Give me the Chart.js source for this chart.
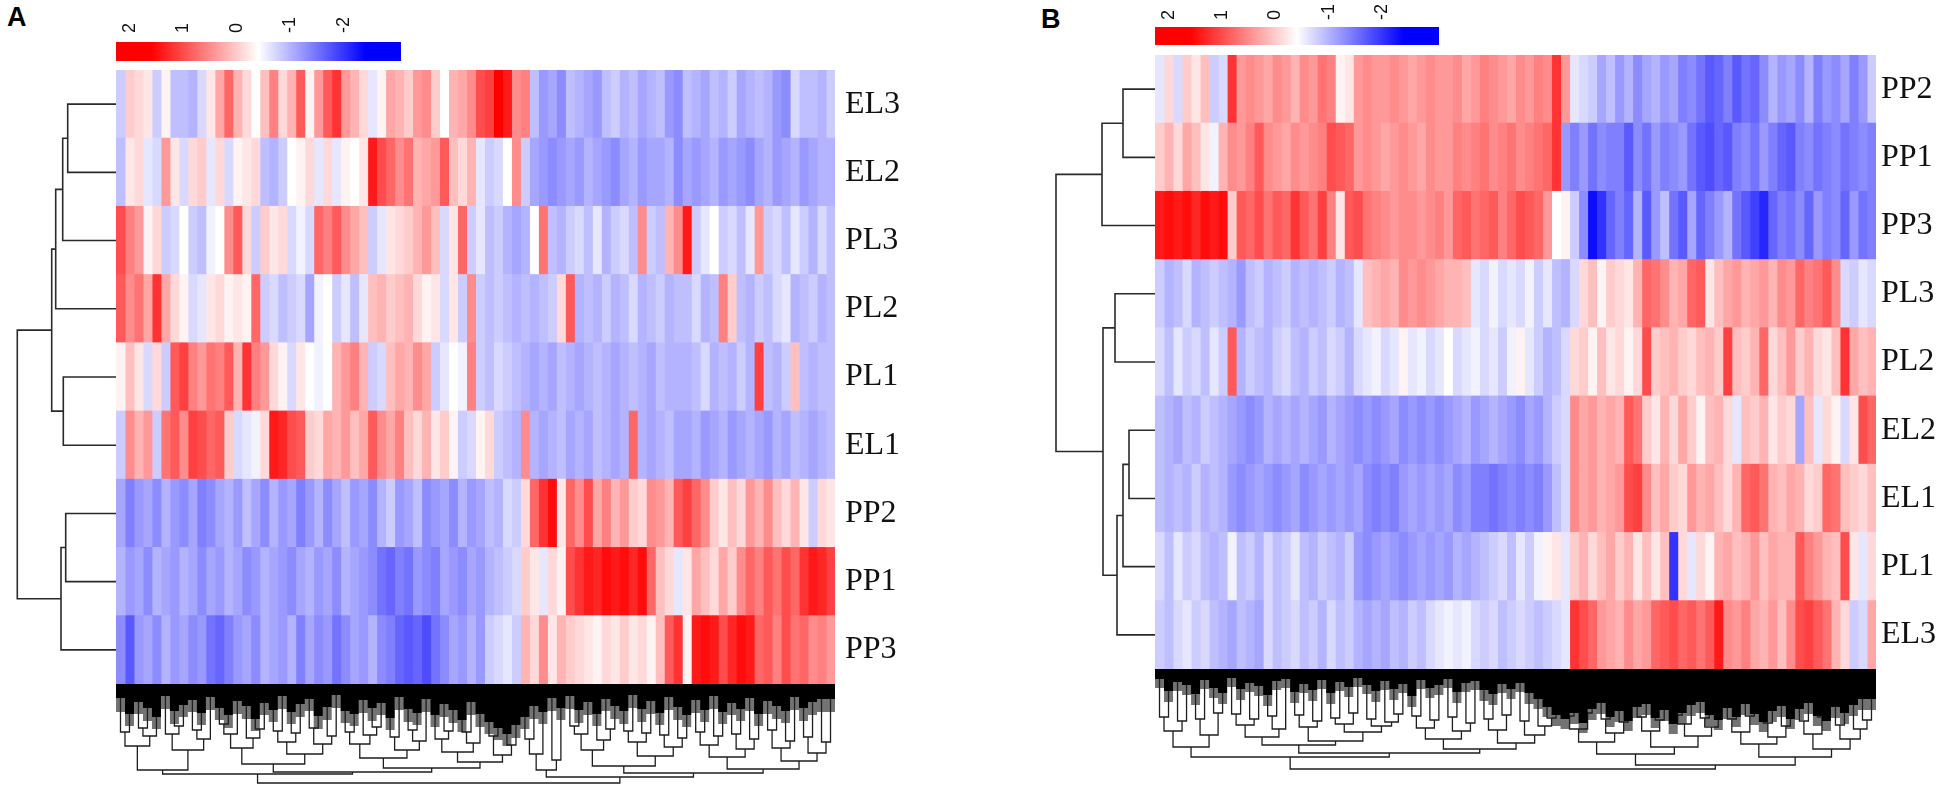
<!DOCTYPE html>
<html><head><meta charset="utf-8">
<script src="https://cdn.jsdelivr.net/npm/chart.js@4.4.1/dist/chart.umd.min.js"></script>
<style>
html,body{margin:0;padding:0;background:#fff;width:1950px;height:795px;overflow:hidden;}
.box{position:absolute;}
.box canvas{display:block;}
.letter{position:absolute;font-family:'Liberation Sans',Arial,sans-serif;font-weight:bold;font-size:27px;line-height:27px;color:#000;}
</style></head><body>
<div class="letter" style="left:7px;top:4px">A</div>
<div class="letter" style="left:1041px;top:6px">B</div>
<div class="box" id="legA" style="left:116px;top:0;width:285px;height:61px"></div>
<div class="box" id="heatA" style="left:116px;top:70px;width:824px;height:614px"></div>
<div class="box" id="rowA" style="left:16px;top:70px;width:100px;height:614px"></div>
<div class="box" id="colA" style="left:116px;top:684px;width:719px;height:104px"></div>
<div class="box" id="legB" style="left:1155px;top:0;width:284px;height:45px"></div>
<div class="box" id="heatB" style="left:1155px;top:55px;width:795px;height:614px"></div>
<div class="box" id="rowB" style="left:1055px;top:55px;width:100px;height:614px"></div>
<div class="box" id="colB" style="left:1155px;top:669px;width:721px;height:104px"></div>
<script>
// ---------- colour legend ----------
const legendTicks = [2, 1, 0, -1, -2];
const LEG_MAX = 2.66;

// ---------- panel A ----------
const rowsA = ['EL3','EL2','PL3','PL2','PL1','EL1','PP2','PP1','PP3'];
const a_EL3 = [-0.4,0.4,0.3,0.2,-0.4,0.1,-0.5,-0.5,-0.6,-0.3, 0.2,0.7,1.2,0.6,0.3,0.0,0.5,1.0,0.3,0.6, 1.3,0.1,0.8,1.3,1.6,0.8,0.6,0.3,-0.2,0.1, 0.7,0.6,0.4,0.8,0.9,0.4,0.0,0.6,0.7,0.9, 1.4,1.5,2.0,1.8,0.9,1.0,-0.5,-0.8,-0.7,-0.9, -0.5,-0.6,-0.7,-0.8,-0.5,-0.4,-0.6,-0.5,-0.7,-0.6, -0.5,-0.8,-0.9,-0.5,-0.6,-0.7,-0.5,-0.6,-0.4,-0.7, -0.6,-0.5,-0.6,-0.8,-0.9,-0.3,-0.5,-0.5,-0.6,-0.4];
const a_EL2 = [-0.5,0.2,0.3,-0.2,-0.3,0.8,0.2,-0.3,0.3,0.4, -0.2,0.3,-0.3,0.1,0.2,0.3,-0.5,-0.6,-0.4,0.0, 0.1,0.3,-0.2,0.3,-0.2,0.1,0.0,0.2,1.8,1.4, 1.2,0.9,1.1,0.6,0.7,0.8,1.3,0.5,0.3,0.6, -0.2,-0.4,-0.3,0.0,0.9,-0.4,-0.7,-0.8,-0.9,-0.8, -0.7,-0.8,-0.6,-0.7,-0.8,-0.9,-0.7,-0.6,-0.8,-0.7, -0.7,-0.6,-0.9,-0.7,-0.8,-0.7,-0.6,-0.8,-0.7,-0.8, -0.9,-0.7,-0.6,-0.8,-0.7,-0.6,-0.8,-0.7,-0.6,-0.6];
const a_PL3 = [1.4,1.0,0.8,0.1,0.3,-0.4,-0.3,0.0,-0.4,-0.5, -0.1,0.0,0.9,1.3,0.3,-0.4,0.4,0.2,0.3,-0.3, -0.1,-0.3,1.2,1.0,1.3,0.9,0.7,0.5,-0.4,-0.2, 0.2,0.3,0.4,0.6,0.8,0.5,-0.3,0.2,1.2,-0.4, -0.2,-0.5,-0.4,-0.6,-0.7,-0.6,0.0,1.1,-0.5,-0.6, -0.4,-0.3,-0.5,-0.2,-0.6,-0.4,-0.3,-0.5,0.9,-0.4, -0.5,0.6,0.9,1.8,-0.4,-0.2,0.0,-0.4,-0.3,-0.5, -0.2,0.8,-0.4,-0.3,-0.5,-0.2,-0.4,-0.6,-0.3,-0.5];
const a_PL2 = [1.3,0.9,1.1,0.7,1.6,0.7,0.3,0.1,-0.3,-0.2, 0.2,0.3,0.1,0.2,0.1,1.2,-0.4,-0.3,-0.5,-0.4, -0.3,-0.7,-0.1,0.0,-0.4,-0.2,-0.5,-0.2,0.5,0.6, 0.4,0.5,0.6,0.3,0.1,0.2,-0.3,0.2,-0.4,0.9, -0.4,-0.5,-0.4,-0.5,-0.6,-0.5,-0.6,-0.5,-0.4,0.3, 1.3,-0.6,-0.5,-0.6,-0.4,-0.6,-0.5,-0.3,-0.6,-0.5, -0.4,-0.6,-0.5,-0.5,-0.3,-0.6,-0.5,1.0,0.4,-0.5, -0.6,-0.4,-0.5,-0.3,-0.2,-0.6,-0.5,-0.4,-0.6,-0.5];
const a_PL1 = [0.1,0.5,0.2,-0.3,0.3,-0.4,1.3,1.5,1.0,0.8, 1.1,1.0,1.3,0.6,1.6,1.0,0.8,0.3,0.1,-0.3, 0.2,0.0,-0.1,0.0,0.6,0.8,1.0,0.6,-0.4,-0.3, 0.5,0.7,0.6,0.9,0.7,-0.4,-0.2,0.0,-0.1,1.0, -0.4,-0.5,-0.3,-0.4,-0.5,-0.6,-0.7,-0.6,-0.7,-0.5, -0.6,-0.7,-0.6,-0.5,-0.6,-0.7,-0.6,-0.5,-0.6,-0.7, -0.5,-0.6,-0.6,-0.6,-0.5,-0.3,-0.6,-0.5,-0.6,-0.4, -0.6,1.5,-0.5,-0.6,-0.4,0.5,-0.5,-0.6,-0.5,-0.5];
const a_EL1 = [-0.4,0.9,0.6,0.8,-0.4,1.1,1.3,0.9,1.5,1.4, 1.2,1.3,0.4,-0.3,-0.2,-0.1,0.3,1.8,1.7,1.4, 1.3,0.4,0.3,0.7,0.6,0.8,0.5,0.7,1.3,0.9, 0.7,1.0,0.5,0.3,0.6,0.2,0.4,0.1,-0.4,-0.3, 0.1,0.3,-0.4,-0.5,-0.6,0.9,-0.6,-0.7,-0.6,-0.5, -0.7,-0.6,-0.7,-0.5,-0.6,-0.7,-0.6,1.2,-0.6,-0.7, -0.6,-0.5,-0.7,-0.7,-0.6,-0.8,-0.7,-0.6,-0.8,-0.7, -0.6,-0.7,-0.8,-0.6,-0.7,-0.5,-0.6,-0.7,-0.6,-0.5];
const a_PP2 = [-0.7,-1.0,-0.8,-0.7,-0.9,-0.6,-0.8,-0.9,-0.7,-1.0, -0.9,-0.7,-0.6,-0.8,-0.5,-0.7,-0.9,-0.6,-0.8,-0.7, -1.0,-0.8,-0.6,-0.9,-0.7,-0.5,-0.8,-0.7,-0.9,-0.6, -0.4,-0.8,-0.7,-0.5,-0.9,-0.8,-0.7,-0.9,-0.6,-0.8, -0.7,-0.5,-0.6,-0.3,-0.4,0.3,1.2,1.6,1.9,0.2, 1.2,0.9,1.4,0.7,1.0,0.6,0.8,0.4,0.3,0.9, 0.8,0.6,1.3,1.5,1.2,0.9,0.4,0.2,0.5,0.3, 0.8,0.6,0.9,0.5,0.3,0.6,0.2,-0.4,0.3,0.2];
const a_PP1 = [-0.6,-0.8,-0.7,-0.9,-0.6,-0.7,-0.8,-0.6,-0.7,-0.9, -0.7,-0.8,-0.6,-0.7,-0.9,-0.8,-0.6,-0.7,-0.8,-0.9, -0.7,-0.6,-0.8,-0.7,-0.9,-0.6,-0.7,-0.8,-0.9,-1.1, -1.2,-1.0,-1.1,-0.8,-0.9,-1.0,-0.7,-0.8,-0.9,-0.7, -0.8,-0.6,-0.5,-0.4,-0.3,0.4,0.2,-0.2,0.3,0.1, 1.4,1.6,1.8,1.7,1.9,1.8,1.9,1.7,1.9,1.2, 0.5,0.3,-0.2,0.2,0.7,0.5,0.3,0.7,0.4,0.9, 1.2,1.0,1.3,1.1,1.4,1.2,1.6,1.8,1.7,1.5];
const a_PP3 = [-0.9,-1.3,-0.8,-0.7,-0.9,-0.6,-0.8,-0.7,-0.9,-0.8, -1.1,-1.2,-1.0,-0.8,-0.7,-0.9,-0.6,-0.7,-0.8,-0.6, -1.0,-0.7,-0.9,-0.8,-1.1,-0.9,-0.7,-0.8,-0.6,-0.9, -1.0,-1.2,-1.3,-1.2,-1.4,-1.1,-0.9,-0.7,-0.8,-0.6, -0.8,-0.4,-0.3,-0.2,-0.4,0.6,0.3,0.9,0.2,0.6, 0.4,0.3,0.2,0.1,0.3,0.2,0.4,0.2,0.3,0.1, 0.5,1.3,1.6,0.1,1.8,1.9,1.8,1.4,1.7,1.9, 1.8,1.2,1.3,1.0,1.4,1.1,1.2,0.9,1.0,0.8];
const rowTreeA = [98.7, [64.3, [60.3, [53.3, [48.3, 0, 1], 2], 3], [52.7, 4, 5]], [55, [50.3, 6, 7], 8]];
const colTreeA = [99,
 [90,
  [86, [62, [48,0,1], [52,[44,2,3],4]], [66, [50,5,[42,6,7]], [55,[46,8,9],10]]],
  [88,
   [80, [64,[50,[40,11,12],13],[54,14,[45,15,16]]], [70,[58,[47,17,18],[49,19,20]],[60,[44,21,22],[52,23,24]]]],
   [84, [74,[60,[48,25,26],[51,27,[43,28,29]]],[66,[53,30,31],[57,[46,32,33],34]]], [78,[68,[55,35,[47,36,37]],[59,[48,38,39],40]],[71,[52,41,42],[61,43,44]]]]]],
 [93,
  [86, [70,[55,45,46],47], [76,48,49]],
  [89,
   [82, [66,[50,[42,50,51],52],[56,53,[45,54,55]]], [72,[58,[47,56,57],[49,58,59]],[63,[51,60,61],[54,62,63]]]],
   [85, [73,[61,[48,64,65],[52,66,67]],[65,[50,68,69],[55,70,71]]], [77,[64,[46,72,73],[57,74,75]],[69,[53,76,77],[58,78,79]]]]]]];
const denseA = [26,14,30,18,24,33,12,27,21,16, 29,13,24,31,17,22,35,19,26,12, 28,20,15,32,23,11,27,30,16,24, 19,34,13,25,29,15,31,20,26,36, 18,30,38,44,50,41,33,22,28,14, 24,12,26,18,30,15,22,27,11,25, 17,29,13,23,31,16,26,12,28,19, 25,14,30,17,22,27,13,24,18,15];
const fringeA = [38,28,42,30,37,45,25,40,33,28, 41,26,36,44,30,35,47,31,38,25, 40,33,27,45,36,24,39,42,29,37, 31,46,26,38,41,28,43,33,39,48, 31,43,50,56,62,54,45,35,40,27, 36,25,39,31,42,27,35,40,24,38, 30,41,26,36,43,29,38,25,40,31, 37,27,42,30,35,39,26,37,31,28];

// ---------- panel B ----------
const rowsB = ['PP2','PP1','PP3','PL3','PL2','EL2','EL1','PL1','EL3'];
const b_PP2 = [-0.2,0.3,-0.3,0.4,0.2,0.5,-0.4,-0.3,1.6,0.8, 0.9,0.8,0.7,0.9,0.8,0.6,0.9,0.8,1.1,1.0, 0.1,0.2,0.8,0.9,0.8,0.8,0.9,0.8,0.7,0.8, 0.9,0.8,0.8,0.9,0.7,0.8,1.0,0.9,0.8,0.7, 0.9,0.8,1.0,0.9,1.6,0.8,-0.2,-0.3,-0.4,-0.7, -0.5,-0.8,-0.6,-0.9,-0.7,-0.6,-0.8,-0.7,-1.0,-0.9, -1.1,-1.3,-1.2,-1.0,-1.3,-1.1,-1.2,-0.9,-0.6,-0.8, -0.7,-0.9,-0.6,-1.0,-0.8,-0.9,-0.7,-1.0,-0.8,-0.4];
const b_PP1 = [0.4,0.6,0.3,0.7,0.5,0.2,-0.1,0.6,0.9,0.8, 1.0,1.3,0.9,0.8,0.7,0.9,0.8,0.9,1.0,1.4, 1.3,1.2,0.8,0.9,0.8,0.7,0.8,0.9,0.8,0.7, 0.9,0.8,0.8,1.0,0.9,1.0,1.1,0.9,1.0,1.1, 0.9,1.0,1.1,1.2,1.6,-0.8,-1.0,-0.8,-1.1,-0.9, -1.0,-1.0,-1.3,-0.9,-1.1,-0.8,-1.0,-0.9,-0.8,-1.1, -1.3,-1.4,-1.2,-1.3,-1.0,-0.9,-1.1,-0.8,-1.0,-1.2, -1.3,-1.0,-0.9,-1.1,-1.0,-0.9,-1.1,-1.0,-0.9,-1.0];
const b_PP3 = [1.8,1.9,1.8,1.9,1.7,1.9,1.8,1.9,0.4,1.3, 1.2,1.4,1.1,1.3,1.2,1.6,1.3,1.1,1.5,1.0, 0.2,1.3,1.4,1.1,1.0,0.9,0.8,0.9,0.9,0.8, 0.9,1.0,0.8,1.2,1.3,1.1,1.2,1.3,1.0,1.2, 1.4,1.3,1.2,0.8,0.0,0.1,-0.4,-0.9,-1.9,-1.6, -1.2,-1.0,-1.2,-0.6,-1.3,-0.8,-0.5,-1.1,-1.3,-0.7, -1.2,-1.0,-0.8,-0.6,-1.1,-1.3,-1.5,-1.7,-1.2,-1.0, -1.1,-0.9,-1.2,-0.8,-1.0,-0.9,-1.2,-0.8,-1.1,-1.0];
const b_PL3 = [-0.4,-0.6,-0.5,-0.3,-0.6,-0.5,-0.4,-0.5,-0.6,-0.8, -0.5,-0.4,-0.6,-0.5,-0.4,-0.6,-0.5,-0.6,-0.5,-0.4, -0.6,-0.5,-0.2,0.5,0.6,0.7,0.6,0.9,0.8,0.9, 0.8,0.7,0.6,0.6,0.5,-0.2,-0.3,-0.1,-0.3,-0.2, -0.3,-0.1,-0.4,-0.2,-0.5,-0.6,-0.3,0.3,0.5,0.1, 0.4,0.3,0.2,0.6,1.2,1.1,0.9,0.6,0.7,1.2, 1.3,0.2,0.5,0.7,0.8,0.6,0.7,0.8,0.6,0.9, 0.8,1.2,1.0,1.1,1.3,0.9,-0.3,-0.4,-0.2,-0.3];
const b_PL2 = [-0.3,-0.5,-0.2,-0.4,-0.3,-0.5,-0.2,-0.4,1.3,-0.6, -0.4,-0.5,-0.6,-0.4,-0.3,-0.5,-0.6,-0.4,-0.5,-0.3, -0.4,-0.6,-0.3,-0.2,-0.1,-0.3,-0.2,0.1,-0.2,-0.1, -0.3,-0.2,0.0,-0.3,-0.2,-0.1,-0.3,-0.2,-0.4,-0.1, 0.1,-0.2,-0.4,-0.6,-0.5,-0.3,0.3,0.4,0.1,0.5, 0.2,0.3,0.1,0.3,1.4,0.4,0.5,0.6,0.4,0.3, 0.5,0.6,0.4,1.5,0.5,0.4,0.6,1.2,0.3,0.5, 0.8,0.4,0.6,0.3,0.2,0.5,1.6,0.7,0.5,0.6];
const b_EL2 = [-0.5,-0.6,-0.7,-0.5,-0.6,-0.4,-0.5,-0.6,-0.7,-0.8, -0.9,-0.8,-0.6,-0.7,-0.6,-0.7,-0.6,-0.7,-0.8,-0.6, -0.7,-0.8,-0.9,-0.8,-0.9,-0.8,-0.7,-0.9,-0.8,-0.9, -0.8,-0.9,-0.8,-0.7,-0.6,-0.8,-0.7,-0.6,-0.7,-0.8, -0.9,-0.7,-0.8,-0.6,-0.4,-0.3,0.9,0.7,0.8,0.6, 0.7,0.6,1.3,1.1,0.4,0.2,0.6,0.3,0.7,0.4, 0.1,0.5,0.6,0.3,-0.2,0.5,0.4,0.6,0.2,0.4, 0.3,-0.7,0.5,-0.2,0.3,0.1,-0.3,0.2,1.4,1.2];
const b_EL1 = [-0.5,-0.6,-0.5,-0.6,-0.4,-0.6,-0.5,-0.6,-0.8,-0.9, -0.8,-0.7,-0.8,-0.9,-0.8,-0.7,-0.9,-0.8,-0.7,-0.8, -0.7,-0.8,-0.7,-0.9,-1.0,-0.9,-1.0,-0.8,-0.7,-0.8, -0.7,-0.8,-0.7,-0.9,-0.8,-1.0,-1.0,-1.1,-1.0,-0.9, -1.0,-0.9,-1.0,-0.8,-0.5,-0.3,0.9,0.7,0.8,0.6, 0.7,0.8,1.4,1.5,0.9,0.5,0.7,0.4,0.3,0.8, 0.6,0.7,0.5,0.3,0.6,1.2,1.3,1.1,0.6,0.5, 0.7,0.6,0.3,0.4,1.2,1.1,0.5,0.4,0.3,0.5];
const b_PL1 = [-0.3,-0.5,-0.2,-0.4,-0.3,-0.5,-0.6,-0.5,-0.1,-0.5, -0.4,-0.6,-0.3,-0.5,-0.4,-0.2,-0.5,-0.6,-0.4,-0.5, -0.6,-0.4,-0.8,-0.9,-0.8,-0.7,-0.8,-0.9,-0.8,-0.7, -0.8,-0.7,-0.8,-0.6,-0.7,-0.6,-0.5,-0.4,-0.3,-0.5, -0.2,-0.4,-0.1,0.1,0.2,-0.2,0.4,0.6,0.3,0.5, 0.7,0.4,0.6,0.2,0.5,0.2,0.5,-1.6,0.3,-0.2, 0.3,0.1,0.6,0.7,0.5,0.6,0.8,0.5,0.7,0.6, 0.6,1.3,1.0,0.8,0.6,0.5,1.4,0.2,-0.2,0.3];
const b_EL3 = [-0.4,-0.5,-0.3,-0.2,-0.4,-0.3,-0.5,-0.6,-0.7,-0.5, -0.6,-0.7,-0.3,-0.5,-0.4,-0.3,-0.5,-0.4,-0.6,-0.3, -0.5,-0.4,-0.6,-0.7,-0.6,-0.7,-0.5,-0.6,-0.4,-0.5, -0.3,-0.2,-0.1,-0.2,-0.1,-0.3,-0.4,-0.3,-0.5,-0.4, -0.3,-0.4,-0.5,-0.4,-0.3,-0.2,1.6,1.4,1.2,0.8, 0.7,0.6,0.9,0.7,0.8,1.2,1.3,1.4,1.2,1.3, 1.1,1.3,1.8,0.9,0.8,1.0,0.7,0.6,0.8,0.5, 0.9,1.4,1.5,1.3,1.1,0.6,0.3,-0.4,-0.3,0.7];
const rowTreeB = [99, [53, [32, 0, 1], 2], [52, [40, 3, 4], [38, [32, [26, 5, 6], 7], 8]]];
const colTreeB = [100,
 [88,
  [78, [62,[48,0,1],[52,2,3]], [66,[50,4,5],[44,6,7]]],
  [84,
   [76, [68,[56,[45,8,9],[50,10,11]],[60,[47,12,13],14]], [72,[58,[46,15,16],[52,17,18]],[63,[55,[49,19,20],[44,21,22]],[57,[50,23,24],[53,25,[45,26,27]]]]]],
   [80, [70,[59,[47,28,29],[51,30,31]],[62,[48,32,33],[54,34,35]]], [74,[61,[50,36,37],[46,38,39]],[66,[52,40,41],[57,42,[49,43,44]]]]]]],
 [96,
  [85, [73,[60,[47,45,46],[44,47,48]],[64,[50,49,50],[53,51,52]]], [78,[62,[48,53,54],[51,55,56]],[67,[55,[46,57,58],59],[58,[49,60,61],62]]]],
  [88, [75,[63,[50,63,64],[47,65,66]],[68,[54,67,68],[57,69,70]]], [80,[65,[52,71,72],[48,73,74]],[70,[56,75,76],[60,77,[51,78,79]]]]]]];
const denseB = [18,10,22,13,16,25,11,19,24,9, 20,14,17,26,12,10,23,15,21,11, 24,13,18,9,16,22,12,20,15,27, 11,19,16,10,23,14,12,21,25,15, 20,14,24,30,38,46,50,44,54,40, 34,48,42,52,38,35,49,41,55,44, 36,33,46,51,39,48,35,45,53,42, 37,50,40,34,47,52,38,44,36,30];
const fringeB = [28,19,33,22,26,36,20,29,35,18, 31,23,27,37,21,19,34,24,32,20, 35,22,28,18,25,33,21,31,24,38, 20,29,26,19,34,23,21,32,36,24, 30,23,35,40,48,57,60,55,64,51, 45,58,53,62,49,46,59,52,65,55, 47,44,57,61,50,58,46,56,63,53, 48,60,51,45,57,62,49,55,47,41];

const matrixA = [a_EL3, a_EL2, a_PL3, a_PL2, a_PL1, a_EL1, a_PP2, a_PP1, a_PP3];
const matrixB = [b_PP2, b_PP1, b_PP3, b_PL3, b_PL2, b_EL2, b_EL1, b_PL1, b_EL3];

// ---------- helpers ----------
function heatColor(v) {
  const t = Math.min(Math.abs(v) / 2, 1);
  const c = Math.round(255 * (1 - t));
  return v >= 0 ? `rgb(255,${c},${c})` : `rgb(${c},${c},255)`;
}
function makeCanvas(id) {
  const box = document.getElementById(id);
  const cv = document.createElement('canvas');
  cv.width = box.clientWidth; cv.height = box.clientHeight;
  cv.style.width = box.clientWidth + 'px'; cv.style.height = box.clientHeight + 'px';
  box.appendChild(cv);
  return cv;
}
const basePlugins = { legend: { display: false }, tooltip: { enabled: false } };
const noPad = (s) => { s.paddingTop = 0; s.paddingBottom = 0; s.paddingLeft = 0; s.paddingRight = 0; };

function legendChart(id, axisHeight, pad) {
  new Chart(makeCanvas(id), {
    type: 'bar',
    data: { labels: ['scale'], datasets: [{
      data: [[-LEG_MAX, LEG_MAX]], borderWidth: 0, barPercentage: 1, categoryPercentage: 1,
      backgroundColor: (ctx) => {
        const ca = ctx.chart.chartArea; if (!ca) return '#fff';
        const g = ctx.chart.ctx.createLinearGradient(ca.left, 0, ca.right, 0);
        for (let k = 0; k <= 40; k++) g.addColorStop(k / 40, heatColor(LEG_MAX - 2 * LEG_MAX * k / 40));
        return g;
      }
    }] },
    options: {
      indexAxis: 'y', responsive: false, animation: false, layout: { padding: 0 }, plugins: basePlugins,
      scales: {
        x: { position: 'top', reverse: true, min: -LEG_MAX, max: LEG_MAX,
             afterBuildTicks: (s) => { s.ticks = legendTicks.map(v => ({ value: v })); },
             afterFit: (s) => { s.height = axisHeight; noPad(s); },
             grid: { display: false, drawTicks: false }, border: { display: false },
             ticks: { minRotation: 90, maxRotation: 90, padding: pad, color: '#111',
                      font: { family: 'Liberation Sans', size: 18 }, callback: (v) => String(v) } },
        y: { display: false }
      }
    }
  });
}

function heatmapChart(id, rows, matrix, axisWidth, pad) {
  const n = matrix[0].length;
  const datasets = [];
  for (let c = 0; c < n; c++) {
    datasets.push({ data: rows.map(() => 1), backgroundColor: matrix.map(r => heatColor(r[c])),
      borderWidth: 0, barPercentage: 1, categoryPercentage: 1, inflateAmount: 0.5 });
  }
  new Chart(makeCanvas(id), {
    type: 'bar', data: { labels: rows, datasets },
    options: {
      indexAxis: 'y', responsive: false, animation: false, layout: { padding: 0 }, plugins: basePlugins,
      scales: {
        x: { stacked: true, min: 0, max: n, display: false },
        y: { stacked: true, position: 'right', grid: { display: false, drawTicks: false }, border: { display: false },
             afterFit: (s) => { s.width = axisWidth; noPad(s); },
             ticks: { padding: pad, color: '#111', font: { family: 'Liberation Serif', size: 32 } } }
      }
    }
  });
}

// links of a dendrogram: returns node position, pushes U-shaped links
function treeLinks(node, pts, horizontal) {
  if (typeof node === 'number') return { p: node + 0.5, h: 0 };
  const [h, l, r] = node;
  const a = treeLinks(l, pts, horizontal), b = treeLinks(r, pts, horizontal);
  const seq = [[a.p, a.h], [a.p, h], [b.p, h], [b.p, b.h]];
  seq.forEach(([p, hh]) => pts.push(horizontal ? { x: hh, y: p } : { x: p, y: hh }));
  pts.push({ x: null, y: null });
  return { p: (a.p + b.p) / 2, h };
}

function rowDendro(id, tree, nRows, maxH) {
  const pts = []; treeLinks(tree, pts, true);
  new Chart(makeCanvas(id), {
    type: 'scatter',
    data: { datasets: [{ data: pts, showLine: true, spanGaps: false, borderColor: '#2a2a2a', borderWidth: 1.6,
      pointRadius: 0, clip: false }] },
    options: { responsive: false, animation: false, layout: { padding: 0 }, plugins: basePlugins,
      scales: { x: { type: 'linear', min: 0, max: maxH, reverse: true, display: false },
                y: { type: 'linear', min: 0, max: nRows, reverse: true, display: false } } }
  });
}

function stepBand(depths, n) {
  const b = depths.map((d, i) => ({ x: i, y: d }));
  b.push({ x: n, y: depths[n - 1] });
  return b;
}

function colDendro(id, tree, dense, fringe, nCols, maxH) {
  const pts = []; treeLinks(tree, pts, false);
  new Chart(makeCanvas(id), {
    type: 'scatter',
    data: { datasets: [
      { data: stepBand(dense, nCols), showLine: true, stepped: 'after', fill: 'origin', backgroundColor: '#000',
        borderColor: '#000', borderWidth: 0, pointRadius: 0, clip: false, order: 0 },
      { data: pts, showLine: true, spanGaps: false, borderColor: '#1e1e1e', borderWidth: 1.3,
        pointRadius: 0, clip: false, order: 1 },
      { data: stepBand(fringe, nCols), showLine: true, stepped: 'after', fill: 'origin', backgroundColor: 'rgba(55,55,55,0.7)',
        borderColor: 'rgba(0,0,0,0)', borderWidth: 0, pointRadius: 0, clip: false, order: 2 }
    ] },
    options: { responsive: false, animation: false, layout: { padding: 0 }, plugins: basePlugins,
      scales: { x: { type: 'linear', min: 0, max: nCols, display: false },
                y: { type: 'linear', min: 0, max: maxH, reverse: true, display: false } } }
  });
}

legendChart('legA', 42, 9);
heatmapChart('heatA', rowsA, matrixA, 105, 10);
rowDendro('rowA', rowTreeA, rowsA.length, 100);
colDendro('colA', colTreeA, denseA, fringeA, a_EL3.length, 104);

legendChart('legB', 27, 7);
heatmapChart('heatB', rowsB, matrixB, 74, 5);
rowDendro('rowB', rowTreeB, rowsB.length, 100);
colDendro('colB', colTreeB, denseB, fringeB, b_PP2.length, 104);
</script>
</body></html>
